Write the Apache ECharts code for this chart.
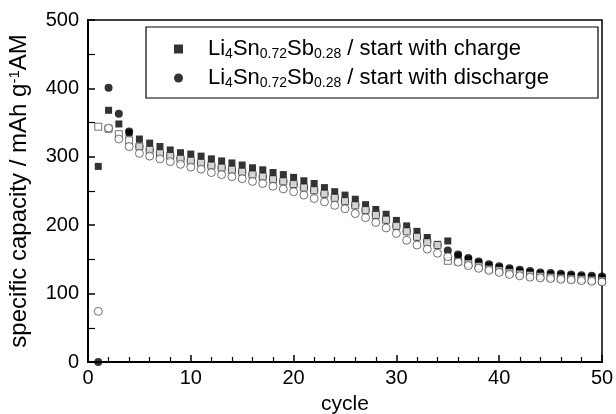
<!DOCTYPE html>
<html>
<head>
<meta charset="utf-8">
<script src="https://cdn.jsdelivr.net/npm/echarts@6/dist/echarts.min.js"></script>
<style>html,body{margin:0;padding:0;background:#fff}#c{width:616px;height:414px}</style>
</head>
<body>
<div id="c"></div>
<script>
var cycles = [];
for (var i = 1; i <= 50; i++) cycles.push(i);

// start with charge: charge capacity (filled squares)
var chargeStartCharge = [286,368,348,335,326,320,315,310,306,304,
  301,297,294,291,288,284,281,277,274,270,
  265,261,255,249,244,238,230,223,216,207,
  199,191,182,172,177,155,150,145,141,138,
  135,133,131,129,128,127,126,125,124,123];
// start with charge: discharge capacity (open squares)
var chargeStartDischarge = [344,341,333,324,315,310,305,301,297,294,
  291,287,284,281,278,274,271,267,264,260,
  255,251,246,240,235,229,222,215,208,199,
  191,183,175,171,148,147,144,140,136,134,
  131,129,127,125.5,124,123,122,121,120,119];
// start with discharge: discharge capacity (filled circles)
var dischargeStartDischarge = [0,401,363,337,315,310,305,301,297,294,
  291,287,284,281,278,274,271,267,264,260,
  255,251,246,240,235,229,222,215,208,199,
  191,183,176,171,163,157,152,147,143,140,
  137,135,133,131,130,129,128,127,126,125];
// start with discharge: charge capacity (open circles)
var dischargeStartCharge = [74,342,326,315,305,301,297,293,289,285,
  282,277,274,271,268,264,261,257,253,249,
  244,239,234,229,224,217,211,204,196,188,
  178,171,165,159,154,146,141,137,134,131,
  128,126,124,123,122,121,120,119,118,117];

var xTicks = [0,10,20,30,40,50];
var yTicks = [0,100,200,300,400,500];

function pairs(arr){ return arr.map(function(v,i){ return [cycles[i], v]; }); }

var nameCharge = 'Li4Sn0.72Sb0.28 / start with charge';
var nameDischarge = 'Li4Sn0.72Sb0.28 / start with discharge';

var FONT = 'Liberation Sans';
var chart = echarts.init(document.getElementById('c'), null, {renderer:'canvas'});
chart.setOption({
  animation: false,
  backgroundColor: '#fff',
  grid: {left: 88, right: 14, top: 20, bottom: 52, show: true, borderColor: '#000', borderWidth: 1.5,
         backgroundColor: 'transparent', containLabel: false, outerBoundsMode: 'none'},
  xAxis: {
    type: 'value', min: xTicks[0], max: xTicks[xTicks.length-1], interval: 10,
    name: 'cycle', nameLocation: 'middle', nameGap: 32,
    nameTextStyle: {fontFamily: FONT, fontSize: 21, color: '#000'},
    axisLine: {show: true, lineStyle: {color: '#000', width: 2}},
    axisTick: {show: true, inside: true, length: 7, lineStyle: {color: '#000', width: 1.5}},
    minorTick: {show: true, splitNumber: 5, length: 5, lineStyle: {color: '#000', width: 1.2}},
    axisLabel: {fontFamily: FONT, fontSize: 20, color: '#000', margin: 6},
    splitLine: {show: false}
  },
  yAxis: {
    type: 'value', min: yTicks[0], max: yTicks[yTicks.length-1], interval: 100,
    name: 'specific capacity / mAh g{sup|-1}AM', nameLocation: 'middle', nameGap: 57,
    nameTextStyle: {fontFamily: FONT, fontSize: 24, color: '#000',
      rich: {sup: {fontFamily: FONT, fontSize: 15, color: '#000', verticalAlign: 'top'}}},
    axisLine: {show: true, lineStyle: {color: '#000', width: 2}},
    axisTick: {show: true, inside: true, length: 7, lineStyle: {color: '#000', width: 1.5}},
    minorTick: {show: true, splitNumber: 2, length: 7, lineStyle: {color: '#000', width: 1.2}},
    axisLabel: {fontFamily: FONT, fontSize: 20, color: '#000', margin: 9},
    splitLine: {show: false}
  },
  legend: {
    orient: 'vertical', left: 169, top: 33, itemGap: 6,
    itemWidth: 9, itemHeight: 9,
    data: [{name: nameCharge, icon: 'rect'}, {name: nameDischarge, icon: 'circle'}],
    formatter: function(n){
      var tail = n.split(' / ')[1];
      return '{n|Li}{s|4}{n|Sn}{s|0.72}{n|Sb}{s|0.28}{n| / ' + tail + '}';
    },
    textStyle: {
      padding: [0,0,0,20],
      rich: {
        n: {fontFamily: FONT, fontSize: 22, color: '#000', lineHeight: 24},
        s: {fontFamily: FONT, fontSize: 14, color: '#000', verticalAlign: 'bottom'}
      }
    }
  },
  graphic: [{
    type: 'rect', shape: {x: 146, y: 27, width: 452, height: 71},
    style: {fill: 'none', stroke: '#000', lineWidth: 1.2}, z: 1
  }],
  series: [
    {name: nameCharge, type: 'scatter', symbol: 'rect', symbolSize: 7,
     itemStyle: {color: '#000'}, data: pairs(chargeStartCharge), z: 2},
    {name: nameDischarge, type: 'scatter', symbol: 'circle', symbolSize: 8,
     itemStyle: {color: '#000'}, data: pairs(dischargeStartDischarge), z: 3},
    {name: 'open squares', type: 'scatter', symbol: 'rect', symbolSize: 7,
     itemStyle: {color: '#fff', borderColor: '#222', borderWidth: 0.8}, data: pairs(chargeStartDischarge), z: 4},
    {name: 'open circles', type: 'scatter', symbol: 'circle', symbolSize: 8,
     itemStyle: {color: '#fff', borderColor: '#222', borderWidth: 0.8}, data: pairs(dischargeStartCharge), z: 5}
  ]
});
</script>
</body>
</html>
